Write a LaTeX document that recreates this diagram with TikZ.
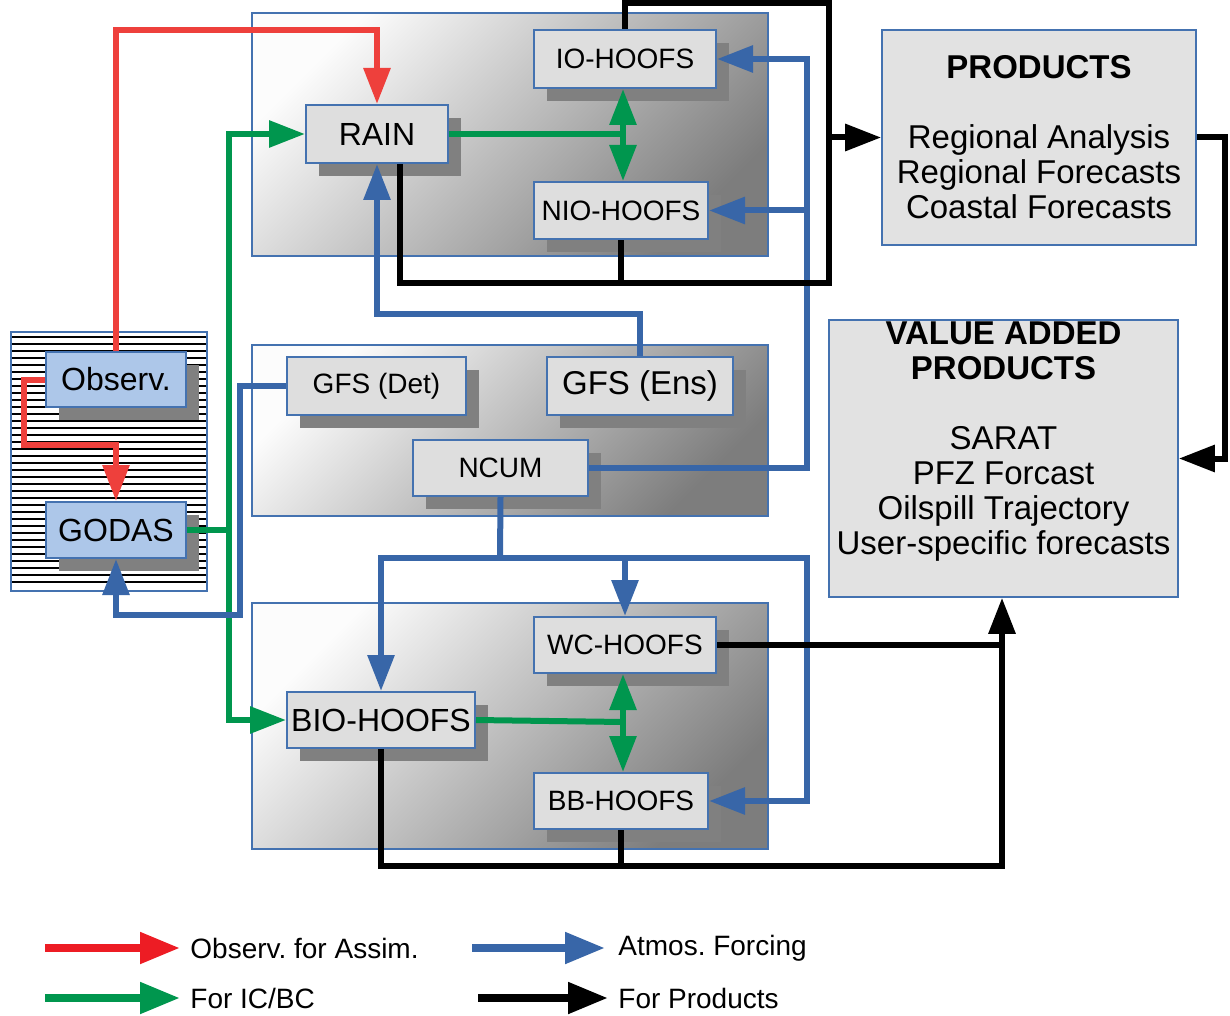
\documentclass[tikz,border=0pt]{standalone}
\usepackage{fontspec}
\setmainfont{Liberation Sans}
\frenchspacing
\usetikzlibrary{arrows.meta,shadows,calc}
\definecolor{nblue}{RGB}{68,114,176}
\definecolor{flowblue}{RGB}{56,102,168}
\definecolor{flowred}{RGB}{238,64,60}
\definecolor{legred}{RGB}{237,28,36}
\definecolor{flowgreen}{RGB}{0,150,78}
\definecolor{nodegray}{RGB}{222,222,222}
\definecolor{shadowgray}{RGB}{128,128,128}
\definecolor{obsblue}{RGB}{173,199,233}
\definecolor{prodgray}{RGB}{226,226,226}
\definecolor{grplight}{RGB}{252,252,252}
\definecolor{grpdark}{RGB}{125,125,125}
\tikzset{
  fsmall/.style={font=\fontsize{14}{16}\selectfont},
  fbig/.style={font=\fontsize{16}{18}\selectfont},
  unit/.style={draw=nblue, line width=1pt, fill=nodegray, inner sep=0pt, text=black,
    general shadow={fill=shadowgray, draw=none, shadow xshift=6.5pt, shadow yshift=-6.5pt}},
  obsunit/.style={unit, fill=obsblue},
  groupbox/.style={draw=nblue, line width=0.8pt, top color=grplight, bottom color=grpdark, shading angle=45},
  prodbox/.style={draw=nblue, line width=0.8pt, fill=prodgray, inner sep=0pt, align=center,
    font=\fontsize{16.5}{17.5}\selectfont},
  con/.style={line width=3pt, line join=miter},
  redc/.style={con, draw=flowred},
  greenc/.style={con, draw=flowgreen},
  bluec/.style={con, draw=flowblue},
  blackc/.style={con, draw=black},
  legc/.style={line width=4pt},
  legtext/.style={anchor=west, inner sep=0pt, font=\fontsize{14}{16}\selectfont},
  >={Triangle[width=13pt,length=18pt]}
}
\begin{document}
\begin{tikzpicture}[x=0.5pt,y=-0.5pt]
\useasboundingbox (0,0) rectangle (1230,1016);

% group boxes
\path[groupbox] (252,13) rectangle (768,256);
\path[groupbox] (252,345) rectangle (768,516);
\path[groupbox] (252,603) rectangle (768,849);

% hatched box
\fill[white] (11,332) rectangle (207,591);
\foreach \yy in {337,344,...,588} \draw[line width=1.4pt] (12,\yy) -- (206,\yy);
\draw[nblue, line width=0.8pt] (11,332) rectangle (207,591);

% units
\node[obsunit, fbig, minimum width=70pt, minimum height=27.5pt] (obs) at (116,379.5) {Observ.};
\node[obsunit, fbig, minimum width=70pt, minimum height=28pt] (godas) at (116,530) {GODAS};
\node[unit, fbig, minimum width=71pt, minimum height=29pt] (rain) at (377,134) {RAIN};
\node[unit, fsmall, minimum width=91pt, minimum height=29pt] (io) at (625,59) {IO-HOOFS};
\node[unit, fsmall, minimum width=87pt, minimum height=28.5pt] (nio) at (621,210.5) {NIO-HOOFS};
\node[unit, fsmall, minimum width=89.5pt, minimum height=29pt] (gfsd) at (376.5,386) {GFS (Det)};
\node[unit, font=\fontsize{16.5}{18}\selectfont, minimum width=93pt, minimum height=29pt] (gfse) at (640,386) {GFS (Ens)};
\node[unit, fsmall, minimum width=87.5pt, minimum height=28pt] (ncum) at (500.5,468) {NCUM};
\node[unit, fsmall, minimum width=91pt, minimum height=28pt] (wc) at (625,645) {WC-HOOFS};
\node[unit, fbig, minimum width=94pt, minimum height=28pt] (bio) at (381,720) {BIO-HOOFS};
\node[unit, fsmall, minimum width=87pt, minimum height=28pt] (bb) at (621,801) {BB-HOOFS};

% product boxes
\node[prodbox, minimum width=157pt, minimum height=107.5pt] (prod) at (1039,137.5)
  {\textbf{PRODUCTS}\\[17.5pt]Regional Analysis\\Regional Forecasts\\Coastal Forecasts};
\node[prodbox, minimum width=174.5pt, minimum height=138.5pt] (vap) at (1003.5,458.5) {};
\node[align=center, inner sep=0pt, font=\fontsize{16.5}{17.5}\selectfont] (vapt) at (1003.5,442)
  {\textbf{VALUE ADDED}\\\textbf{PRODUCTS}\\[17.5pt]SARAT\\PFZ Forcast\\Oilspill Trajectory\\User-specific forecasts};

% helper coordinates
\coordinate (r2) at (24,445);
\coordinate (gv) at (229,0);
\coordinate (j1) at (623,134);
\coordinate (j2) at (623,722);
\coordinate (b1) at (377,314);
\coordinate (b2) at (240,615);
\coordinate (bx) at (807,0);
\coordinate (b3) at (500,558);
\coordinate (b4) at (807,558);
\coordinate (k1) at (829,3);
\coordinate (k2) at (829,283);
\coordinate (k3) at (1225,0);
\coordinate (k4) at (1002,866);

% red: observations
\draw[redc, ->] (obs.north) -- (obs.north |- 0,30) -| (rain.north);
\draw[redc, ->] (obs.west) -| (r2) -| (godas.north);

% green: IC/BC
\draw[greenc, <->] (rain.west) -- (gv |- rain.west) -- (gv |- bio.west) -- (bio.west);
\draw[greenc] (godas.east) -- (gv |- godas.east);
\draw[greenc] (rain.east) -- (j1);
\draw[greenc, <->] (j1 |- io.south) -- (j1 |- nio.north);
\draw[greenc] (bio.east) -- (j2);
\draw[greenc, <->] (j2 |- wc.south) -- (j2 |- bb.north);

% blue: atmospheric forcing
\draw[bluec, ->] (gfse.north) |- (b1) -- (rain.south);
\draw[bluec, ->] (gfsd.west) -| (b2) -| (godas.south);
\draw[bluec, ->] (ncum.east) -| (bx |- io.east) -- (io.east);
\draw[bluec, ->] (bx |- nio.east) -- (nio.east);
\draw[bluec, <->] (bio.north) -- (bio.north |- b3) -- (b4) |- (bb.east);
\draw[bluec] (ncum.south) -- (b3);
\draw[bluec, ->] (wc.north |- b3) -- (wc.north);

% black: products
\draw[blackc] (io.north) |- (k1) -- (k2) -| ([xshift=11.5pt]rain.south);
\draw[blackc] (nio.south) -- (nio.south |- k2);
\draw[blackc, ->] (k1 |- prod.west) -- (prod.west);
\draw[blackc, ->] (prod.east) -| (k3 |- vap.east) -- (vap.east);
\draw[blackc, ->] (bio.south) |- (k4) -- (k4 |- vap.south);
\draw[blackc] (wc.east) -- (wc.east -| k4);
\draw[blackc] (bb.south) -- (bb.south |- k4);

% legend
\node[legtext] (lt1) at (190,948) {Observ. for Assim.};
\node[legtext] (lt2) at (190,998) {For IC/BC};
\node[legtext] (lt3) at (618,948) {Atmos. Forcing};
\node[legtext] (lt4) at (618,998) {For Products};
\coordinate (ls1) at (45,948);
\coordinate (ls2) at (45,998);
\coordinate (ls3) at (472,948);
\coordinate (ls4) at (478,998);
\draw[legc, draw=legred, -{Triangle[width=15pt,length=20pt]}] (ls1) -- ([xshift=-5pt]lt1.west);
\draw[legc, draw=flowgreen, -{Triangle[width=15pt,length=20pt]}] (ls2) -- ([xshift=-5pt]lt2.west);
\draw[legc, draw=flowblue, -{Triangle[width=15pt,length=20pt]}] (ls3) -- ([xshift=-6.5pt]lt3.west);
\draw[legc, draw=black, -{Triangle[width=15pt,length=20pt]}] (ls4) -- ([xshift=-5pt]lt4.west);
\end{tikzpicture}
\end{document}
